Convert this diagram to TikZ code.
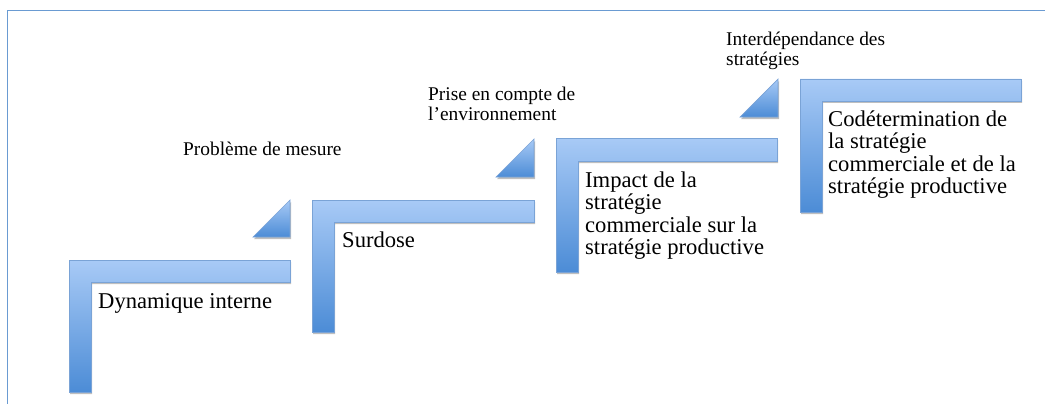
\documentclass[tikz,border=0pt]{standalone}
\usepackage{fontspec}
\setmainfont{Liberation Serif}
\usetikzlibrary{shadows}
\definecolor{lightblue}{HTML}{A8CAF6}
\definecolor{darkblue}{HTML}{4C8CD6}
\definecolor{edgeblue}{HTML}{7AA3D6}
\definecolor{frameblue}{HTML}{6A9BD2}
\newcommand\txtlines[1]{\parbox[t]{320pt}{\raggedright #1}}
\tikzset{
  stepshape/.style={top color=lightblue, bottom color=darkblue, draw=edgeblue, line width=0.7pt,
    drop shadow={shadow xshift=1pt, shadow yshift=-2pt, opacity=0.25, fill=black}},
  bigtext/.style={anchor=base west, inner sep=0pt, font=\fontsize{22.6}{22.5}\selectfont},
  smalltext/.style={anchor=base west, inner sep=0pt, font=\fontsize{19.4}{20}\selectfont},
}
\begin{document}
\begin{tikzpicture}[x=1pt, y=-1pt]
\useasboundingbox (0,0) rectangle (1045,404);
% frame
\draw[frameblue, line width=1.5pt] (7.5,404) -- (7.5,10.5) -- (1045,10.5);
% step 1
\path[stepshape] (69,260) -- (290,260) -- (290,282) -- (91,282) -- (91,392) -- (69,392) -- cycle;
\path[stepshape] (253,237) -- (290,200) -- (290,237) -- cycle;
% step 2
\path[stepshape] (312,200) -- (534,200) -- (534,222) -- (334,222) -- (334,332) -- (312,332) -- cycle;
\path[stepshape] (496,177) -- (534,139) -- (534,177) -- cycle;
% step 3
\path[stepshape] (556,138) -- (777,138) -- (777,161) -- (578,161) -- (578,272) -- (556,272) -- cycle;
\path[stepshape] (740,117) -- (778,79) -- (778,117) -- cycle;
% step 4
\path[stepshape] (800,79) -- (1021,79) -- (1021,101) -- (822,101) -- (822,212) -- (800,212) -- cycle;
% texts
\node[bigtext] (t1) at (98,308) {\txtlines{Dynamique interne}};
\node[bigtext] (t2) at (342,247) {\txtlines{Surdose}};
\node[bigtext] (t3) at (585,187) {\txtlines{Impact de la\\stratégie\\commerciale sur la\\stratégie productive}};
\node[bigtext] (t4) at (828,126) {\txtlines{Codétermination de\\la stratégie\\commerciale et de la\\stratégie productive}};
\node[smalltext] (s1) at (183,155) {\txtlines{Problème de mesure}};
\node[smalltext] (s2) at (428,101) {\txtlines{Prise en compte de\\l’environnement}};
\node[smalltext] (s3) at (726,46) {\txtlines{Interdépendance des\\stratégies}};
\end{tikzpicture}
\end{document}
